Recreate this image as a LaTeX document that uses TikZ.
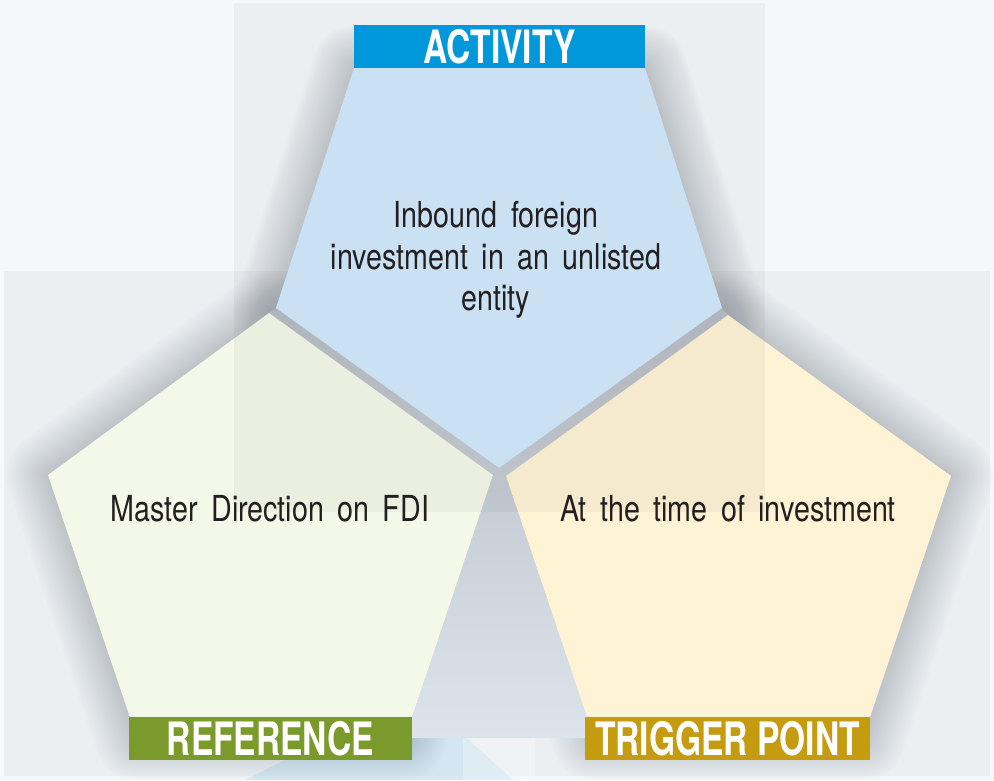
\documentclass[tikz,border=0pt]{standalone}
\usepackage{fontspec}
\setmainfont{TeX Gyre Heros}[FakeStretch=0.80, WordSpace=1.7]
\newfontfamily\labelfont{TeX Gyre Heros}[FakeStretch=0.73]
\definecolor{bgc}{HTML}{F4F8FB}
\definecolor{actblue}{HTML}{0098DA}
\definecolor{refgreen}{HTML}{7A9A2B}
\definecolor{triggold}{HTML}{C59B10}
\definecolor{pentA}{HTML}{C9E1F3}
\definecolor{pentB}{HTML}{F4F8E8}
\definecolor{pentC}{HTML}{FEF3D5}
\definecolor{shadowgray}{HTML}{80868F}
\definecolor{gaptop}{HTML}{B7BBC3}
\definecolor{gapbot}{HTML}{DCE4EB}
\definecolor{txt}{HTML}{231F20}
\definecolor{lightblue}{HTML}{C6E0F1}
\tikzset{
  labelbox/.style={inner sep=0pt, minimum height=43pt, text=white,
    font=\labelfont\bfseries\fontsize{46}{46}\selectfont},
  bodytext/.style={text=txt, align=center, inner sep=0pt,
    font=\fontsize{35.8}{41.5}\selectfont},
  tint/.style={fill=black, opacity=0.035},
  shadowline/.style={shadowgray, line join=round, opacity=0.021},
}
\begin{document}
\begin{tikzpicture}[x=1pt,y=-1pt]
\useasboundingbox (0,0) rectangle (994,780);
% pentagon vertices
\coordinate (A1) at (354,68);  \coordinate (A2) at (645,68);
\coordinate (A3) at (722,308); \coordinate (A4) at (499,468);
\coordinate (A5) at (276,308);
\coordinate (B1) at (269,313); \coordinate (B2) at (493,475);
\coordinate (B3) at (405,738); \coordinate (B4) at (137,738);
\coordinate (B5) at (48,475);
\coordinate (C1) at (728,315); \coordinate (C2) at (951,476);
\coordinate (C3) at (863,738); \coordinate (C4) at (594,738);
\coordinate (C5) at (506,476);
% background
\fill[bgc] (0,0) rectangle (994,780);
\fill[tint] (4,271) rectangle (990,776);
\fill[lightblue, opacity=0.6] (245,780) -- (417,693) -- (513,780) -- cycle;
\fill[white, opacity=0.25] (463,560) rectangle (535,780);
% shadows
\foreach \w in {4,8,...,84} {
  \draw[shadowline, line width=\w pt]
    (B1) -- (B2) -- (B3) -- (B4) -- (B5) -- cycle;
  \draw[shadowline, line width=\w pt]
    (C1) -- (C2) -- (C3) -- (C4) -- (C5) -- cycle;
  \draw[shadowline, line width=\w pt]
    (A1) -- (A2) -- (A3) -- (A4) -- (A5) -- cycle;
}
% gap between pentagons
\shade[top color=gaptop, bottom color=gapbot]
  (A5) -- (A4) -- (A3) -- (C1) -- (C5) -- (C4) -- (B3) -- (B2) -- (B1) -- cycle;
% pentagons
\fill[pentB] (B1) -- (B2) -- (B3) -- (B4) -- (B5) -- cycle;
\fill[pentC] (C1) -- (C2) -- (C3) -- (C4) -- (C5) -- cycle;
\fill[tint] (234,3) rectangle (765,512);
\fill[pentA] (A1) -- (A2) -- (A3) -- (A4) -- (A5) -- cycle;
% labels
\node[labelbox, fill=actblue, minimum width=291pt] (act) at (499.5,46.5) {ACTIVITY};
\node[labelbox, fill=refgreen, minimum width=283pt] (ref) at (270.5,738.5) {REFERENCE};
\node[labelbox, fill=triggold, minimum width=285pt] (trig) at (727.5,738.5) {TRIGGER POINT};
% texts
\node[bodytext] (tA) at (496,260) {Inbound foreign\\investment in an unlisted\\entity};
\node[bodytext, anchor=base] (tB) at (270,521.7) {Master Direction on FDI};
\node[bodytext, anchor=base] (tC) at (728,521.7) {At the time of investment};
\end{tikzpicture}
\end{document}
